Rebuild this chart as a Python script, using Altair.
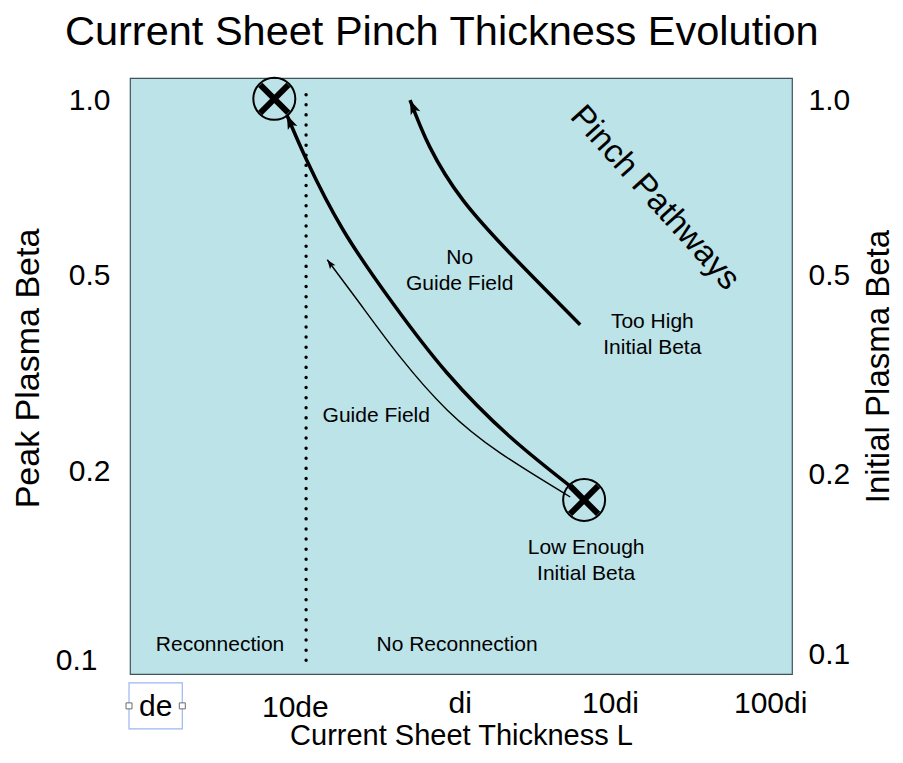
import math
import altair as alt
import pandas as pd

FONT = "Liberation Sans"

# ---------------- text ----------------
title_text = "Current Sheet Pinch Thickness Evolution"
x_title = "Current Sheet Thickness L"
y_left_title = "Peak Plasma Beta"
y_right_title = "Initial Plasma Beta"

# ---------------- schematic axes (diagram units 0-100) ----------------
x_tick_labels = ["de", "10de", "di", "10di", "100di"]
x_tick_pos = [3.8, 24.9, 49.8, 72.5, 96.7]
beta_labels = ["1.0", "0.5", "0.2", "0.1"]
beta_left_pos = [96.3, 66.9, 33.9, 2.3]
beta_right_pos = [96.3, 66.9, 33.4, 3.2]

# ---------------- pinch pathways ----------------
nogf_x = [67.2, 57.4, 47.9, 39.7, 32.2, 26.7, 23.7]
nogf_y = [30.9, 39.8, 50.5, 62.2, 74.5, 86.2, 93.8]
gf_x = [66.5, 55.9, 47.9, 40.8, 34.7, 29.8]
gf_y = [29.7, 37.1, 44.3, 53.2, 62.2, 69.5]
hi_x = [68.0, 57.9, 50.3, 45.3, 42.3]
hi_y = [58.6, 70.0, 79.5, 88.4, 96.3]

# reconnection boundary (10 de)
boundary_x = [26.6]
boundary_y = [2.3]
boundary_y2 = [98.3]

# X-point markers
xpoint_x = [21.8, 68.6]
xpoint_y = [96.5, 29.2]

# annotations (position of first line)
ann_text = ["No\nGuide Field", "Too High\nInitial Beta", "Guide Field",
            "Low Enough\nInitial Beta", "Reconnection", "No Reconnection"]
ann_x = [49.8, 78.9, 37.2, 68.9, 13.6, 49.4]
ann_y = [69.8, 59.1, 43.3, 21.1, 4.8, 4.8]

rot_text = ["Pinch Pathways"]
rot_x = [79.3]
rot_y = [79.9]

# selection box around "de" (screenshot artefact)
de_box_x = [-0.15]
de_box_x2 = [7.9]
de_box_y = [-1.5]
de_box_y2 = [-9.2]

W, H = 662, 596

# ---------------- data frames ----------------
rows = []
arrows = []
for name, xs_, ys_, thick in [("No Guide Field", nogf_x, nogf_y, True),
                              ("Guide Field", gf_x, gf_y, False),
                              ("Too High Initial Beta", hi_x, hi_y, True)]:
    for i, (a, b) in enumerate(zip(xs_, ys_)):
        rows.append({"name": name, "order": i, "x": a, "y": b, "thick": thick})
    dxp = (xs_[-1] - xs_[-2]) * W / 100
    dyp = -(ys_[-1] - ys_[-2]) * H / 100
    ang = math.degrees(math.atan2(dxp, -dyp)) % 360
    arrows.append({"name": name, "x": xs_[-1], "y": ys_[-1], "angle": ang, "thick": thick})
paths = pd.DataFrame(rows)
arrows = pd.DataFrame(arrows)

xpts = pd.DataFrame({"x": xpoint_x, "y": xpoint_y})
bnd = pd.DataFrame({"x": boundary_x, "y": boundary_y, "y2": boundary_y2})
ann = pd.DataFrame({"text": ann_text, "x": ann_x, "y": ann_y})
rot = pd.DataFrame({"text": rot_text, "x": rot_x, "y": rot_y})
box = pd.DataFrame({"x": de_box_x, "x2": de_box_x2, "y": de_box_y, "y2": de_box_y2})
handles = pd.DataFrame({"x": [de_box_x[0], de_box_x2[0]],
                        "y": [(de_box_y[0] + de_box_y2[0]) / 2] * 2})


def label_expr(pos, labels):
    parts = [f"datum.value === {p} ? '{l}'" for p, l in zip(pos, labels)]
    return " : ".join(parts) + " : ''"


xs = alt.Scale(domain=[0, 100], nice=False, zero=False)
ys = alt.Scale(domain=[0, 100], nice=False, zero=False)

x_axis = alt.Axis(values=x_tick_pos, labelExpr=label_expr(x_tick_pos, x_tick_labels),
                  title=x_title, ticks=False, domain=False, grid=False,
                  labelFont=FONT, labelFontSize=30, labelColor="black",
                  labelPadding={"condition": [
                      {"test": f"datum.value === {x_tick_pos[0]}", "value": 32},
                      {"test": f"datum.value === {x_tick_pos[1]}", "value": 33}],
                      "value": 29},
                  labelBaseline="middle", labelAlign="center",
                  labelFlush=False, labelOverlap=False,
                  titleFont=FONT, titleFontSize=29, titleFontWeight="normal",
                  titleColor="black", titleX=331, titleY=61, titleBaseline="middle",
                  titleAlign="center")

left_axis = alt.Axis(values=beta_left_pos, labelExpr=label_expr(beta_left_pos, beta_labels),
                     title=y_left_title, orient="left", ticks=False, domain=False, grid=False,
                     labelFont=FONT, labelFontSize=30, labelColor="black",
                     labelPadding={"condition": {"test": f"datum.value === {beta_left_pos[3]}",
                                                 "value": 33}, "value": 20},
                     labelBaseline="middle", labelAlign="right",
                     labelFlush=False, labelOverlap=False,
                     titleFont=FONT, titleFontSize=34, titleFontWeight="normal",
                     titleColor="black", titleX=-102, titleY=290, titleAngle=270,
                     titleBaseline="middle", titleAlign="center")

right_axis = alt.Axis(values=beta_right_pos, labelExpr=label_expr(beta_right_pos, beta_labels),
                      title=y_right_title, orient="right", ticks=False, domain=False, grid=False,
                      labelFont=FONT, labelFontSize=30, labelColor="black",
                      labelPadding=16, labelBaseline="middle", labelAlign="left",
                      labelFlush=False, labelOverlap=False,
                      titleFont=FONT, titleFontSize=33, titleFontWeight="normal",
                      titleColor="black", titleX=86, titleY=288, titleAngle=270,
                      titleBaseline="middle", titleAlign="center")

ARROW = "M0,0L0.55,1.5L0,1.15L-0.55,1.5Z"
CROSS = "M-0.7,-0.7L0.7,0.7M-0.7,0.7L0.7,-0.7"


def X():
    return alt.X("x:Q", scale=xs, axis=x_axis)


def Y(axis=None):
    return alt.Y("y:Q", scale=ys, axis=axis)


thick_lines = alt.Chart(paths[paths.thick]).mark_line(
    color="black", strokeWidth=3.5, interpolate="natural"
).encode(x=X(), y=Y(left_axis), detail="name:N", order="order:Q")

thin_lines = alt.Chart(paths[~paths.thick]).mark_line(
    color="black", strokeWidth=1.4, interpolate="natural"
).encode(x=X(), y=Y(), detail="name:N", order="order:Q")

thick_arrows = alt.Chart(arrows[arrows.thick]).mark_point(
    shape=ARROW, filled=True, size=360, color="black", opacity=1
).encode(x=X(), y=Y(), angle=alt.Angle("angle:Q", scale=None))

thin_arrows = alt.Chart(arrows[~arrows.thick]).mark_point(
    shape=ARROW, filled=True, size=150, color="black", opacity=1
).encode(x=X(), y=Y(), angle=alt.Angle("angle:Q", scale=None))

circles = alt.Chart(xpts).mark_point(
    shape="circle", filled=False, size=1764, color="black", strokeWidth=2, opacity=1
).encode(x=X(), y=Y(right_axis))

crosses = alt.Chart(xpts).mark_point(
    shape=CROSS, filled=False, size=1600, color="black", strokeWidth=6, opacity=1
).encode(x=X(), y=Y())

boundary = alt.Chart(bnd).mark_rule(
    color="black", strokeWidth=3.4, strokeDash=[0.1, 10], strokeCap="round"
).encode(x=X(), y=Y(), y2="y2:Q")

annotations = alt.Chart(ann).mark_text(
    font=FONT, fontSize=21, color="black", lineBreak="\n", lineHeight=26,
    align="center", baseline="middle"
).encode(x=X(), y=Y(), text="text:N")

rotated = alt.Chart(rot).mark_text(
    font=FONT, fontSize=33, color="black", angle=48, align="center", baseline="middle"
).encode(x=X(), y=Y(), text="text:N")

sel_box = alt.Chart(box).mark_rect(
    fillOpacity=0, stroke="#9bb7f2", strokeWidth=1.2
).encode(x=X(), x2="x2:Q", y=Y(), y2="y2:Q")

sel_handles = alt.Chart(handles).mark_square(
    size=36, fill="white", stroke="#6a6a6a", strokeWidth=1, opacity=1
).encode(x=X(), y=Y())

chart = alt.layer(
    thick_lines, circles, thin_lines, thick_arrows, thin_arrows, crosses,
    boundary, annotations, rotated, sel_box, sel_handles
).resolve_axis(y="independent").properties(
    width=W, height=H,
    padding={"left": 122, "top": 70, "right": 103, "bottom": 75},
    autosize=alt.AutoSizeParams(type="none"),
    title=alt.TitleParams(title_text, anchor="start", frame="group", dx=-65, offset=19,
                          font=FONT, fontSize=41.5, fontWeight="normal", color="black"),
).configure_view(fill="#bce3e8", stroke="#3f5459", strokeWidth=1.2)

chart.save("out.html", embed_options={"renderer": "svg", "actions": False})
